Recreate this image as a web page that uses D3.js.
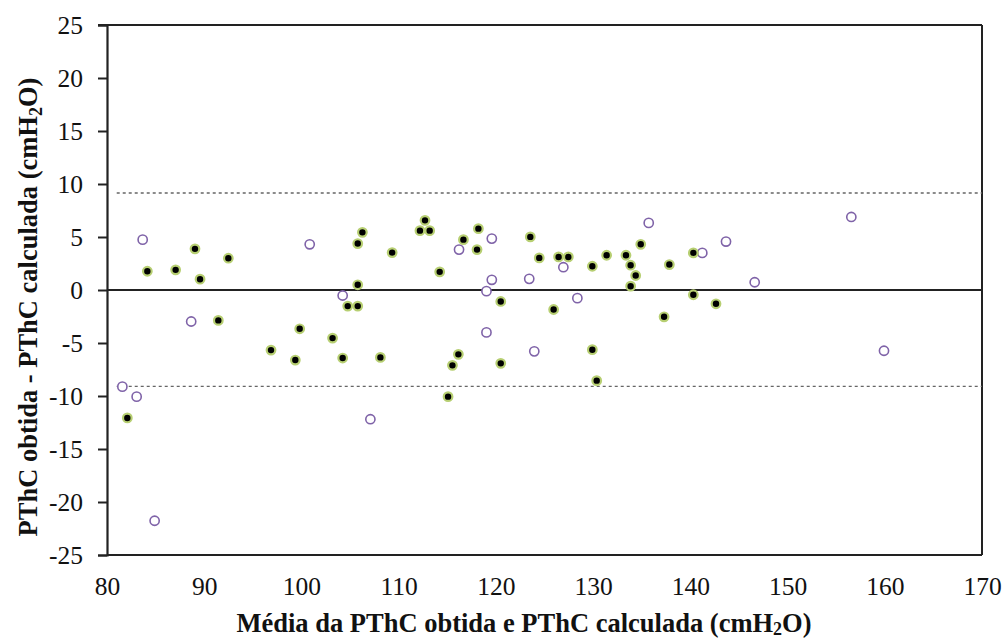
<!DOCTYPE html>
<html>
  <head>
    <meta charset="UTF-8" />
    <script src="https://d3js.org/d3.v7.min.js"></script>
    <style>
      body { margin: 0; background: #fff; }
      svg text { font-family: "Liberation Serif", "Times New Roman", Times, serif; }
    </style>
  </head>
  <body>
    <div id="chart"></div>

    <script>
      // filled series (black dots with green halo)
      var filledX = [84.15, 87.06, 89.05, 89.57, 92.48, 91.45, 99.82, 82.09, 96.87, 99.37,
        103.2, 104.24, 104.76, 105.79, 105.79, 105.79, 106.27, 108.12, 109.33, 112.19,
        112.71, 113.19, 114.22, 115.08, 115.53, 116.14, 116.66, 118.06, 118.2, 120.5,
        120.5, 123.54, 124.46, 125.94, 126.45, 127.45, 129.92, 129.92, 130.37, 131.39,
        133.38, 133.86, 134.38, 133.86, 134.9, 137.84, 137.3, 140.31, 140.31, 142.64];
      var filledY = [1.77, 1.9, 3.88, 1.02, 3.0, -2.87, -3.66, -12.07, -5.67, -6.61,
        -4.54, -6.42, -1.52, -1.52, 0.49, 4.38, 5.44, -6.36, 3.53, 5.6,
        6.57, 5.6, 1.71, -10.06, -7.11, -6.07, 4.75, 3.81, 5.79, -1.08,
        -6.92, 5.01, 3.03, -1.84, 3.12, 3.12, 2.24, -5.63, -8.55, 3.28,
        3.28, 2.34, 1.37, 0.36, 4.31, 2.4, -2.53, 3.5, -0.45, -1.3];

      // open series (purple rings)
      var openX = [83.67, 100.85, 88.66, 81.58, 83.05, 84.9, 104.24, 107.09, 116.21, 119.58,
        119.58, 119.03, 119.03, 123.43, 123.95, 126.94, 128.38, 135.72, 141.23, 143.67,
        146.62, 156.56, 159.92];
      var openY = [4.75, 4.31, -2.97, -9.12, -10.06, -21.77, -0.52, -12.19, 3.81, 4.85,
        0.96, -0.11, -4.0, 1.05, -5.79, 2.15, -0.77, 6.33, 3.5, 4.57,
        0.73, 6.89, -5.73];

      var meanDiff = 0;
      var limits = [9.15, -9.1];

      var xTicks = [80, 90, 100, 110, 120, 130, 140, 150, 160, 170];
      var yTicks = [25, 20, 15, 10, 5, 0, -5, -10, -15, -20, -25];

      var serif = "Liberation Serif";

      var width = 1003, height = 640;
      var margin = { top: 25, right: 21, bottom: 85, left: 107 };

      var svg = d3.select("#chart").append("svg")
        .attr("width", width)
        .attr("height", height);

      var x = d3.scaleLinear().domain([80, 170]).range([margin.left, width - margin.right]);
      var y = d3.scaleLinear().domain([-25, 25]).range([height - margin.bottom, margin.top]);

      // y axis with outer ticks
      var yAxis = svg.append("g")
        .attr("transform", "translate(" + margin.left + ",0)")
        .call(d3.axisLeft(y).tickValues(yTicks).tickSize(9).tickPadding(15).tickFormat(d3.format("d")));
      yAxis.attr("font-family", serif).attr("font-size", 25.5);
      yAxis.select(".domain").attr("stroke", "#222").attr("stroke-width", 2.2);
      yAxis.selectAll(".tick line").attr("stroke", "#222").attr("stroke-width", 2);
      yAxis.selectAll(".tick text").attr("fill", "#111")
        .text(function (d) { return d; });

      // x axis labels only
      var xAxis = svg.append("g")
        .attr("transform", "translate(0," + (height - margin.bottom) + ")")
        .call(d3.axisBottom(x).tickValues(xTicks).tickSize(0).tickPadding(22));
      xAxis.attr("font-family", serif).attr("font-size", 25.5);
      xAxis.select(".domain").remove();
      xAxis.selectAll(".tick text").attr("fill", "#111");

      // frame
      svg.append("line")
        .attr("x1", margin.left - 9).attr("x2", x(170))
        .attr("y1", y(25)).attr("y2", y(25))
        .attr("stroke", "#222").attr("stroke-width", 2);
      svg.append("line")
        .attr("x1", x(170)).attr("x2", x(170))
        .attr("y1", y(25)).attr("y2", y(-25))
        .attr("stroke", "#222").attr("stroke-width", 2);
      svg.append("line")
        .attr("x1", x(80)).attr("x2", x(170))
        .attr("y1", y(-25)).attr("y2", y(-25))
        .attr("stroke", "#222").attr("stroke-width", 2);

      // mean line
      svg.append("line")
        .attr("x1", x(80)).attr("x2", x(170))
        .attr("y1", y(meanDiff)).attr("y2", y(meanDiff))
        .attr("stroke", "#222").attr("stroke-width", 2);

      // limits of agreement
      svg.selectAll(".limit").data(limits).enter().append("line")
        .attr("class", "limit")
        .attr("x1", x(81)).attr("x2", x(170))
        .attr("y1", function (d) { return y(d); })
        .attr("y2", function (d) { return y(d); })
        .attr("stroke", "#666").attr("stroke-width", 1.3)
        .attr("stroke-dasharray", "3,3");

      var filled = filledX.map(function (v, i) { return [v, filledY[i]]; });
      var open = openX.map(function (v, i) { return [v, openY[i]]; });

      svg.append("g").selectAll("circle").data(open).enter().append("circle")
        .attr("cx", function (d) { return x(d[0]); })
        .attr("cy", function (d) { return y(d[1]); })
        .attr("r", 4.6)
        .attr("fill", "#fff")
        .attr("stroke", "#7f63a8")
        .attr("stroke-width", 1.6);

      svg.append("g").selectAll("circle").data(filled).enter().append("circle")
        .attr("cx", function (d) { return x(d[0]); })
        .attr("cy", function (d) { return y(d[1]); })
        .attr("r", 4.3)
        .attr("fill", "#000")
        .attr("stroke", "#b7cf72")
        .attr("stroke-width", 2.2);

      // axis titles
      var yt = svg.append("text")
        .attr("transform", "translate(37,307) rotate(-90)")
        .attr("text-anchor", "middle")
        .attr("font-family", serif)
        .attr("font-size", 26.5)
        .attr("font-weight", "bold")
        .attr("fill", "#111");
      yt.append("tspan").text("PThC obtida - PThC calculada (cmH");
      yt.append("tspan").attr("font-size", 18).attr("dy", 5).text("2");
      yt.append("tspan").attr("dy", -5).text("O)");

      var xt = svg.append("text")
        .attr("x", 524)
        .attr("y", 632)
        .attr("text-anchor", "middle")
        .attr("font-family", serif)
        .attr("font-size", 26.5)
        .attr("font-weight", "bold")
        .attr("fill", "#111");
      xt.append("tspan").text("Média da PThC obtida e PThC calculada (cmH");
      xt.append("tspan").attr("font-size", 18).attr("dy", 3).text("2");
      xt.append("tspan").attr("dy", -3).text("O)");
    </script>
  </body>
</html>
